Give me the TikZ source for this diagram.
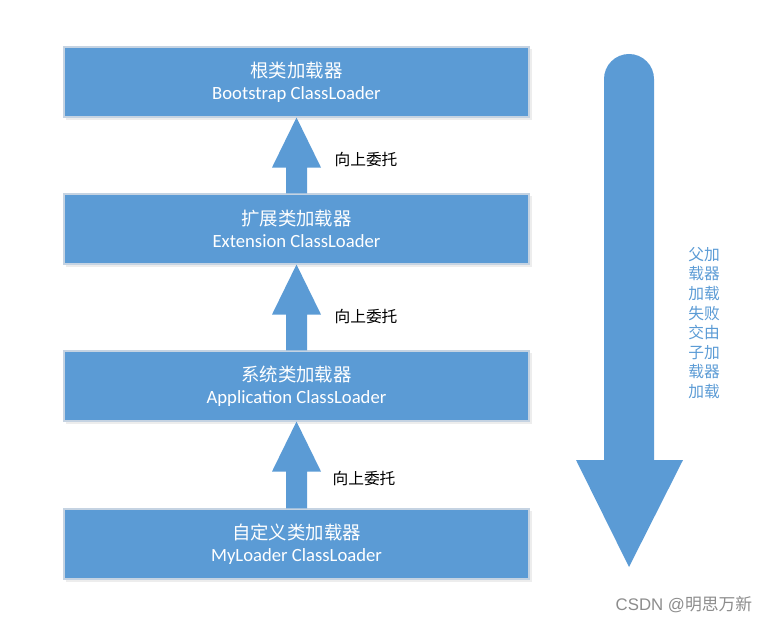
\documentclass[tikz,border=0pt]{standalone}
\usepackage{fontspec}
\setmainfont{Carlito}
\newfontfamily\cjk{Noto Sans CJK SC}
\usetikzlibrary{calc}
\definecolor{boxblue}{HTML}{5B9BD5}
\definecolor{boxedge}{HTML}{C5D3E2}
\definecolor{wm}{HTML}{8C8C8C}
\tikzset{
  loaderbox/.style={fill=boxblue, draw=boxedge, line width=0.8pt, minimum width=348.75pt, minimum height=52.5pt, inner sep=0pt, text=white, align=center},
  uparrow/.style={fill=boxblue, draw=none},
  delegabel/.style={font=\cjk\fontsize{11.8pt}{13pt}\selectfont, text=black, inner sep=0pt},
  sidelabel/.style={font=\cjk\fontsize{11.8pt}{14.7pt}\selectfont, text=boxblue, align=left, inner sep=0pt},
}
\newcommand{\cntitle}[1]{{\cjk\fontsize{13.8pt}{17pt}\selectfont #1}}
\newcommand{\entitle}[1]{{\fontsize{14pt}{17pt}\selectfont #1}}
\begin{document}
\begin{tikzpicture}[x=0.75pt,y=-0.75pt]
\useasboundingbox (0,0) rectangle (767,623);
% shadows
\foreach \yy in {82,229,386,544}{
  \fill[black!7] (66,\yy-33) rectangle (532,\yy+38);
}
\node[loaderbox] (b1) at (296.5,82) {\cntitle{根类加载器}\\[4.5pt]\entitle{Bootstrap ClassLoader}};
\node[loaderbox] (b2) at (296.5,229) {\cntitle{扩展类加载器}\\[4.5pt]\entitle{Extension ClassLoader}};
\node[loaderbox] (b3) at (296.5,386) {\cntitle{系统类加载器}\\[4.5pt]\entitle{Application ClassLoader}};
\node[loaderbox] (b4) at (296.5,544) {\cntitle{自定义类加载器}\\[4.5pt]\entitle{MyLoader ClassLoader}};
% up arrows
\foreach \lo/\hi in {b2/b1,b3/b2,b4/b3}{
  \fill[uparrow] ($(\lo.north)+(-10.5,0)$) -- ($(\hi.south)+(-10.5,50)$) -- ($(\hi.south)+(-24.5,50)$)
     -- (\hi.south) -- ($(\hi.south)+(24.5,50)$) -- ($(\hi.south)+(10.5,50)$) -- ($(\lo.north)+(10.5,0)$) -- cycle;
}
\node[delegabel] (l1) at (366,160) {向上委托};
\node[delegabel] (l2) at (366,317) {向上委托};
\node[delegabel] (l3) at (364,479) {向上委托};
% big down arrow
\coordinate (bigtop) at (629,54);
\coordinate (bigtip) at (629,567);
\fill[uparrow] (604,79) arc[start angle=180, end angle=0, x radius=25, y radius=-25] -- (654,460) -- (683,460) -- (bigtip) -- (576,460) -- (604,460) -- cycle;
\node[sidelabel, anchor=north west] (side) at (688,247) {父加\\载器\\加载\\失败\\交由\\子加\\载器\\加载};
\node[font=\fontspec{Liberation Sans}\fontsize{12.6pt}{14pt}\selectfont, text=wm, inner sep=0pt] (wmark) at (684,605) {CSDN @{\cjk 明思万新}};
\end{tikzpicture}
\end{document}
